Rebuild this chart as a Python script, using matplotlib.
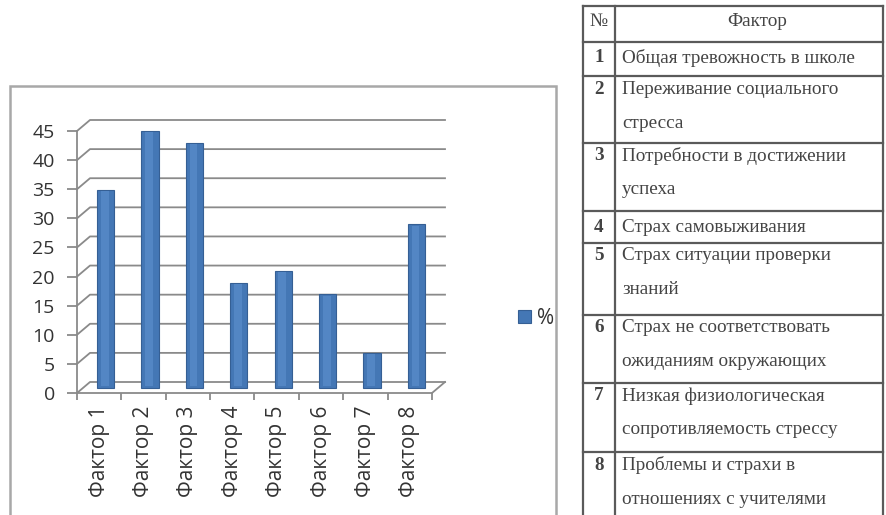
import matplotlib
matplotlib.use("Agg")
import matplotlib.pyplot as plt
from matplotlib.patches import Rectangle

categories = ["Фактор 1", "Фактор 2", "Фактор 3", "Фактор 4",
              "Фактор 5", "Фактор 6", "Фактор 7", "Фактор 8"]
values = [34, 44, 42, 18, 20, 16, 6, 28]
series_name = "%"
y_ticks = [0, 5, 10, 15, 20, 25, 30, 35, 40, 45]

table_header = ["№", "Фактор"]
table_numbers = ["1", "2", "3", "4", "5", "6", "7", "8"]
table_texts = [
    ["Общая тревожность в школе"],
    ["Переживание социального", "стресса"],
    ["Потребности в достижении", "успеха"],
    ["Страх самовыживания"],
    ["Страх ситуации проверки", "знаний"],
    ["Страх не соответствовать", "ожиданиям окружающих"],
    ["Низкая физиологическая", "сопротивляемость стрессу"],
    ["Проблемы и страхи в", "отношениях с учителями"],
]

W, H = 886, 515
fig = plt.figure(figsize=(W / 100, H / 100), dpi=100)
fig.patch.set_facecolor("white")

# chart frame
fig.patches.append(Rectangle((10 / W, -0.1), (556 - 10) / W, 1.1 - 86 / H,
                             transform=fig.transFigure, fill=False,
                             edgecolor="#a8a8a8", linewidth=1.8))

ax = fig.add_axes([77 / W, 1 - 393 / H, 355 / W, 262 / H])
n = len(categories)
ax.set_xlim(0, n)
ax.set_ylim(0, 45)
ax.set_facecolor("none")

# 3D depth offset in data units
DX = 13 / (355 / n)
DY = 11 / (262 / 45)
grid_c = "#8a8a8a"

for v in y_ticks:
    ax.plot([0, DX, n + DX], [v, v + DY, v + DY], color=grid_c, lw=1.3,
            clip_on=False, zorder=1)
ax.plot([n, n + DX], [0, DY], color=grid_c, lw=1.3, clip_on=False, zorder=1)

centers = [i + 0.5 for i in range(n)]
BW = 0.39
bars = ax.bar([c + DX / 2 for c in centers], values, bottom=DY / 2, width=BW,
              color="#4477b5", edgecolor="#355f94", linewidth=0.8,
              zorder=3, clip_on=False, label=series_name)
ax.bar([c + DX / 2 - BW * 0.05 for c in centers], [v - 0.4 for v in values],
       bottom=DY / 2 + 0.2, width=BW * 0.45, color="#5386c4", linewidth=0,
       zorder=4, clip_on=False)

for s in ["top", "right"]:
    ax.spines[s].set_visible(False)
ax.spines["left"].set_color(grid_c)
ax.spines["left"].set_linewidth(1.3)
ax.spines["bottom"].set_color(grid_c)
ax.spines["bottom"].set_linewidth(1.3)

ax.set_yticks(y_ticks)
ax.set_yticklabels([str(t) for t in y_ticks])
ax.tick_params(axis="y", length=7, width=1.3, color=grid_c, pad=9,
               labelsize=14, labelcolor="#333333")
ax.set_xticks(centers)
ax.set_xticklabels(categories, rotation=90)
ax.tick_params(axis="x", which="major", length=0, pad=9, labelsize=15,
               labelcolor="#333333")
ax.set_xticks(list(range(n + 1)), minor=True)
ax.tick_params(axis="x", which="minor", length=5, width=1.3, color=grid_c)
for lab in ax.get_xticklabels() + ax.get_yticklabels():
    lab.set_family("Open Sans")

fig.legend(handles=[bars], labels=[series_name], loc="center left",
           bbox_to_anchor=(508 / W, 1 - 318 / H), frameon=False,
           handlelength=0.6, handleheight=0.6, handletextpad=0.3,
           borderpad=0, prop={"family": "Open Sans", "size": 15})
for t in fig.legends[0].get_texts():
    t.set_color("#333333")

# table
tab = fig.add_axes([0, 0, 1, 1])
tab.set_xlim(0, W)
tab.set_ylim(H, 0)
tab.axis("off")
tab.set_zorder(-1)
line_c = "#5a5a5a"
x_left, x_sep, x_right = 583, 615, 883
rows = [6, 42, 76, 143, 211, 243, 315, 383, 452]
tab.plot([x_left, x_left], [rows[0], H + 5], color=line_c, lw=1.6)
tab.plot([x_sep, x_sep], [rows[0], H + 5], color=line_c, lw=1.6)
tab.plot([x_right, x_right], [rows[0], H + 5], color=line_c, lw=1.6)
for r in rows:
    tab.plot([x_left, x_right], [r, r], color=line_c, lw=1.6)

tfont = dict(family="Liberation Serif", size=13.8, color="#444444")
tab.text((x_left + x_sep) / 2, 21, table_header[0], ha="center", va="center", **tfont)
tab.text((x_sep + x_right) / 2 + 8, 21, table_header[1], ha="center", va="center", **tfont)
for i, (num, lines) in enumerate(zip(table_numbers, table_texts)):
    top = rows[i + 1]
    y0 = top + (16 if len(lines) == 1 else 13)
    tab.text((x_left + x_sep) / 2, y0, num, ha="center", va="center",
             fontweight="bold", **tfont)
    for j, ln in enumerate(lines):
        tab.text(622, y0 + 34 * j, ln, ha="left", va="center", **tfont)

fig.savefig("out.png", dpi=100, facecolor="white")
